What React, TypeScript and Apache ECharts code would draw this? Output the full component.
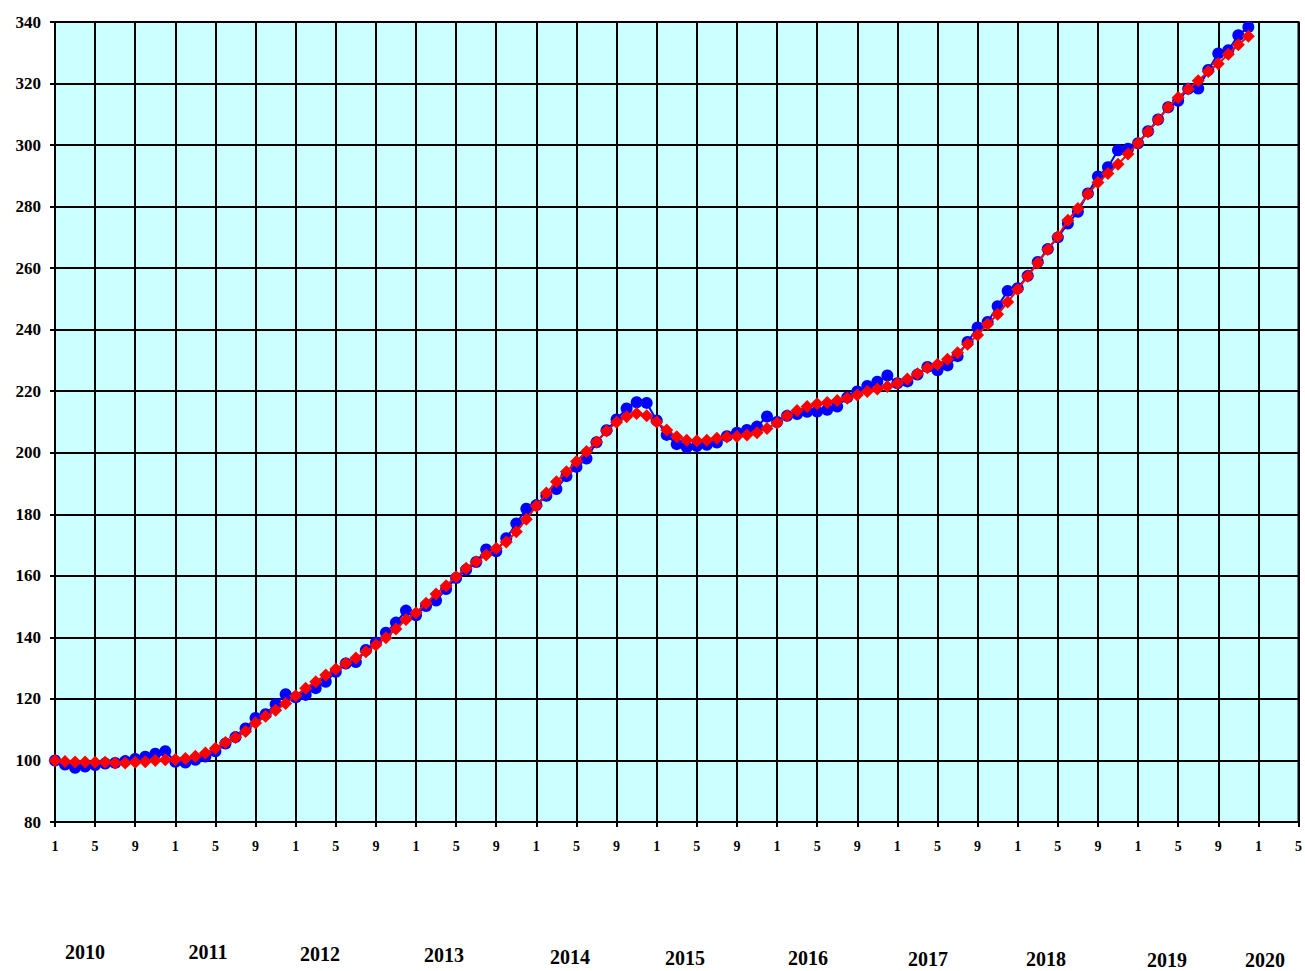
import React, { useEffect, useRef } from "react";
import * as echarts from "echarts";

// monthly index 0 = Jan 2010
const actual: number[] = [
  100, 98.7, 97.6, 98.0, 98.5, 99.0, 99.2, 99.8, 100.5, 101.2, 102.2, 103.0,
  99.6, 99.3, 100.2, 101.3, 103.0, 105.5, 107.6, 110.4, 113.8, 115.0, 118.3, 121.5,
  120.5, 121.3, 123.5, 125.6, 128.8, 131.5, 132.0, 135.9, 138.3, 141.5, 144.8, 148.7,
  147.2, 150.2, 152.0, 155.7, 159.3, 162.0, 164.5, 168.6, 168.0, 172.2, 177.0, 181.8,
  183.0, 186.0, 188.2, 192.4, 195.4, 198.1, 203.4, 207.3, 210.8, 214.4, 216.4, 216.2,
  210.5, 205.8, 202.8, 201.8, 202.2, 202.6, 203.3, 205.4, 206.5, 207.4, 208.5, 211.8,
  210.0, 212.0, 212.6, 213.3, 213.4, 214.0, 215.0, 218.0, 219.9, 221.7, 223.1, 225.1,
  222.6, 223.2, 225.4, 227.9, 226.8, 228.4, 231.4, 236.0, 240.7, 242.5, 247.6, 252.6,
  253.5, 257.5, 262.0, 266.2, 270.0, 274.5, 278.3, 284.3, 289.8, 292.8, 298.3, 298.8,
  300.6, 304.5, 308.3, 312.3, 314.4, 318.3, 318.4, 324.4, 329.8, 330.8, 335.7, 338.4,
];

const trend: number[] = [
  100.0, 99.7, 99.5, 99.5, 99.4, 99.4, 99.2, 99.2, 99.4, 99.6, 100.0, 100.2,
  100.3, 100.6, 101.4, 102.4, 104.0, 105.8, 107.5, 109.4, 112.2, 114.4, 116.3, 118.5,
  121.0, 123.5, 125.6, 127.8, 129.7, 131.6, 133.3, 135.3, 137.5, 139.9, 142.7, 145.8,
  148.0, 151.1, 154.1, 156.8, 159.7, 162.5, 164.6, 166.8, 169.0, 171.0, 174.3, 178.4,
  182.7, 186.9, 190.6, 193.8, 197.2, 200.4, 203.5, 207.1, 209.9, 211.7, 212.8, 212.0,
  210.0, 207.4, 205.2, 204.1, 203.9, 204.1, 204.7, 205.1, 205.3, 205.8, 206.5, 207.9,
  209.7, 212.0, 213.7, 215.0, 215.9, 216.3, 217.0, 217.7, 218.8, 219.9, 220.7, 221.5,
  222.6, 224.0, 225.7, 227.6, 228.8, 230.4, 232.5, 235.3, 238.3, 241.8, 245.0, 249.0,
  253.1, 257.4, 261.7, 266.1, 270.3, 275.6, 279.4, 284.1, 287.8, 290.8, 293.8, 297.1,
  300.6, 304.3, 308.2, 312.3, 315.5, 318.2, 320.9, 323.9, 326.4, 329.5, 332.6, 335.4,
];

const years: string[] = ["2010", "2011", "2012", "2013", "2014", "2015", "2016", "2017", "2018", "2019", "2020"];
const yearX: number[] = [85, 208, 320, 444, 570, 685, 808, 928, 1046, 1167, 1265];
const yearY: number[] = [952, 952, 954, 955, 957, 958, 958, 959, 959, 960, 960];

const FONT = "'Liberation Serif', 'Times New Roman', serif";

export default function App() {
  const ref = useRef<HTMLDivElement>(null);
  useEffect(() => {
    if (!ref.current) return;
    const chart = echarts.init(ref.current, undefined, { renderer: "svg" });
    chart.setOption({
      animation: false,
      backgroundColor: "#ffffff",
      grid: {
        left: 55,
        right: 5,
        top: 22,
        bottom: 149,
        show: true,
        backgroundColor: "#CCFFFF",
        borderColor: "#000",
        borderWidth: 2,
      },
      xAxis: {
        type: "value",
        min: 0,
        max: 124,
        interval: 4,
        axisLine: { show: true, lineStyle: { color: "#000", width: 2 } },
        axisTick: { show: true, inside: false, length: 5, lineStyle: { color: "#000", width: 2 } },
        splitLine: { show: true, lineStyle: { color: "#000", width: 2 } },
        axisLabel: {
          margin: 17,
          fontFamily: FONT,
          fontWeight: "bold",
          fontSize: 14,
          color: "#000",
          formatter: (v: number) => String((Math.round(v) % 12) + 1),
        },
      },
      yAxis: {
        type: "value",
        min: 80,
        max: 340,
        interval: 20,
        axisLine: { show: true, lineStyle: { color: "#000", width: 2 } },
        axisTick: { show: true, inside: false, length: 5, lineStyle: { color: "#000", width: 2 } },
        splitLine: { show: true, lineStyle: { color: "#000", width: 2 } },
        axisLabel: {
          margin: 14,
          fontFamily: FONT,
          fontWeight: "bold",
          fontSize: 17,
          color: "#000",
        },
      },
      series: [
        {
          name: "actual",
          type: "line",
          data: actual.map((v, i) => [i, v]),
          symbol: "circle",
          symbolSize: 12,
          itemStyle: { color: "#0000FF" },
          lineStyle: { color: "#0000FF", width: 2 },
          z: 2,
        },
        {
          name: "trend",
          type: "line",
          data: trend.map((v, i) => [i, v]),
          symbol: "diamond",
          symbolSize: 13,
          itemStyle: { color: "#FF0000" },
          lineStyle: { color: "#FF0000", width: 2 },
          z: 3,
        },
      ],
      graphic: years.map((y, i) => ({
        type: "text",
        x: yearX[i],
        y: yearY[i],
        style: {
          text: y,
          fontFamily: FONT,
          fontWeight: "bold",
          fontSize: 20,
          fill: "#000",
          textAlign: "center",
          textVerticalAlign: "middle",
        },
      })),
    });
    return () => chart.dispose();
  }, []);
  return (
    <div
      ref={ref}
      style={{ position: "fixed", left: 0, top: 0, width: 1305, height: 971 }}
    />
  );
}
